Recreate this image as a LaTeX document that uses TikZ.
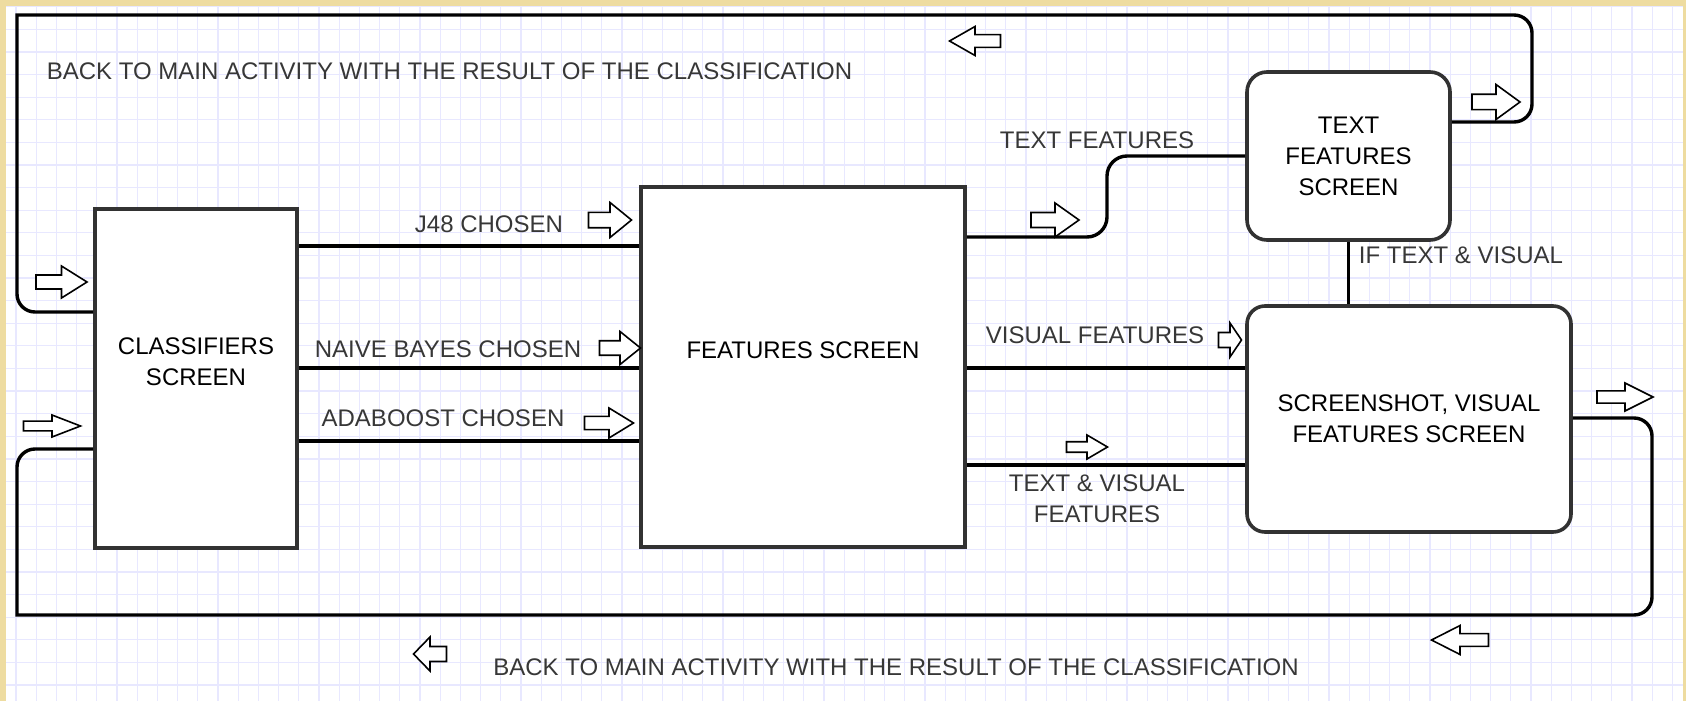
\documentclass[tikz,border=0pt]{standalone}
\usepackage{fontspec}
\setmainfont{Liberation Sans}
\definecolor{parchment}{RGB}{238,220,160}
\definecolor{gridblue}{RGB}{232,232,255}
\definecolor{boxgray}{RGB}{50,50,50}
\definecolor{labelgray}{RGB}{55,55,55}

% hollow block arrow: centre x, centre y, length, height, direction (1 right, -1 left)
\newcommand{\blockarrow}[5]{%
  \draw[arrowline] ({#1-(#5)*#3/2},{#2-0.22*#4}) -- ++({(#5)*#3/2},0) -- ++(0,{-0.28*#4})
    -- ++({(#5)*#3/2},{#4/2}) -- ++({-(#5)*#3/2},{#4/2}) -- ++(0,{-0.28*#4})
    -- ++({-(#5)*#3/2},0) -- cycle;}

\begin{document}
\begin{tikzpicture}[x=0.5pt, y=-0.5pt,
    screen/.style={draw=boxgray, line width=1.8pt, fill=white, inner sep=0pt, align=center,
      text=black, font={\fontsize{12pt}{15.5pt}\selectfont}},
    boxtext/.style={align=center, inner sep=0pt, text depth=0pt, text=black,
      font={\fontsize{12pt}{15.5pt}\selectfont}},
    tag/.style={inner sep=0pt, text depth=0pt, align=center, text=labelgray,
      font={\fontsize{12pt}{15.5pt}\selectfont}},
    wire/.style={line width=1.7pt, black},
    arrowline/.style={draw=black, line width=0.8pt, fill=white, line join=miter},
    gridline/.style={gridblue, line width=0.6pt}]

    % frame and drawing paper
    \useasboundingbox (0,0) rectangle (1686,701);
    \fill[parchment] (0,0) rectangle (1686,701);
    \fill[white] (6,6) rectangle (1683,701);
    \foreach \i in {0,...,82} {\draw[gridline] ({16+20.2*\i},6) -- ({16+20.2*\i},701);}
    \foreach \j in {0,...,30} {\draw[gridline] (6,{6.7+22.61*\j}) -- (1683,{6.7+22.61*\j});}

    % screens
    \node[screen, minimum width=101pt, minimum height=169.5pt] (cls) at (196,378.5) {};
    \node[screen, minimum width=162pt, minimum height=180pt] (feat) at (803,367) {};
    \node[screen, rounded corners=10pt, minimum width=101.5pt, minimum height=84pt] (txt) at (1348.5,156) {TEXT\\FEATURES\\SCREEN};
    \node[screen, rounded corners=9pt, minimum width=162pt, minimum height=113pt] (shot) at (1409,419) {SCREENSHOT, VISUAL\\FEATURES SCREEN};
    \node[boxtext] (clstext) at (196,362) {CLASSIFIERS\\SCREEN};
    \node[boxtext] (feattext) at (803,350) {FEATURES SCREEN};

    % connectors
    \draw[wire] (cls.east |- 0,246) -- (feat.west |- 0,246);
    \draw[wire] (cls.east |- 0,368) -- (feat.west |- 0,368);
    \draw[wire] (cls.east |- 0,441) -- (feat.west |- 0,441);
    \draw[wire, rounded corners=10pt] (feat.east |- 0,237) -- (1107,237) -- (1107,156) -- (txt.west |- 0,156);
    \draw[wire] (feat.east |- 0,368) -- (shot.west |- 0,368);
    \draw[wire] (feat.east |- 0,465) -- (shot.west |- 0,465);
    \draw[wire] (txt.south) -- (txt.south |- shot.north);

    % loops back to the main activity
    \draw[wire, rounded corners=9pt] (txt.east |- 0,122) -- (1532,122) -- (1532,15) [sharp corners] -- (17,15)
      [rounded corners=9pt] -- (17,312) -- (cls.west |- 0,312);
    \draw[wire, rounded corners=9pt] (shot.east |- 0,418) -- (1652,418) -- (1652,615) [sharp corners] -- (17,615)
      [rounded corners=9pt] -- (17,449) -- (cls.west |- 0,449);

    % labels
    \node[tag] (backtop) at (449.5,71) {BACK TO MAIN ACTIVITY WITH THE RESULT OF THE CLASSIFICATION};
    \node[tag] (backbot) at (896,667) {BACK TO MAIN ACTIVITY WITH THE RESULT OF THE CLASSIFICATION};
    \node[tag] (j48) at (489,224) {J48 CHOSEN};
    \node[tag] (nb) at (448,349) {NAIVE BAYES CHOSEN};
    \node[tag] (ada) at (443,418) {ADABOOST CHOSEN};
    \node[tag] (tf) at (1097,140) {TEXT FEATURES};
    \node[tag] (vf) at (1095,335) {VISUAL FEATURES};
    \node[tag] (tvf) at (1097,499) {TEXT \& VISUAL\\FEATURES};
    \node[tag] (iftv) at (1461,255) {IF TEXT \& VISUAL};

    % direction arrows
    \blockarrow{975}{41}{51}{29}{-1}
    \blockarrow{1496}{102}{48}{35}{1}
    \blockarrow{61.5}{282}{51}{32}{1}
    \blockarrow{52}{426}{57}{22}{1}
    \blockarrow{610}{220}{43}{35}{1}
    \blockarrow{620}{348}{41}{33}{1}
    \blockarrow{609}{423}{49}{30}{1}
    \blockarrow{1055}{220}{48}{34}{1}
    \blockarrow{1230}{340}{23}{34}{1}
    \blockarrow{1087}{447}{41}{24}{1}
    \blockarrow{1625}{397}{56}{28}{1}
    \blockarrow{1460}{640}{57}{29}{-1}
    \blockarrow{430}{654}{33}{34}{-1}
\end{tikzpicture}
\end{document}
